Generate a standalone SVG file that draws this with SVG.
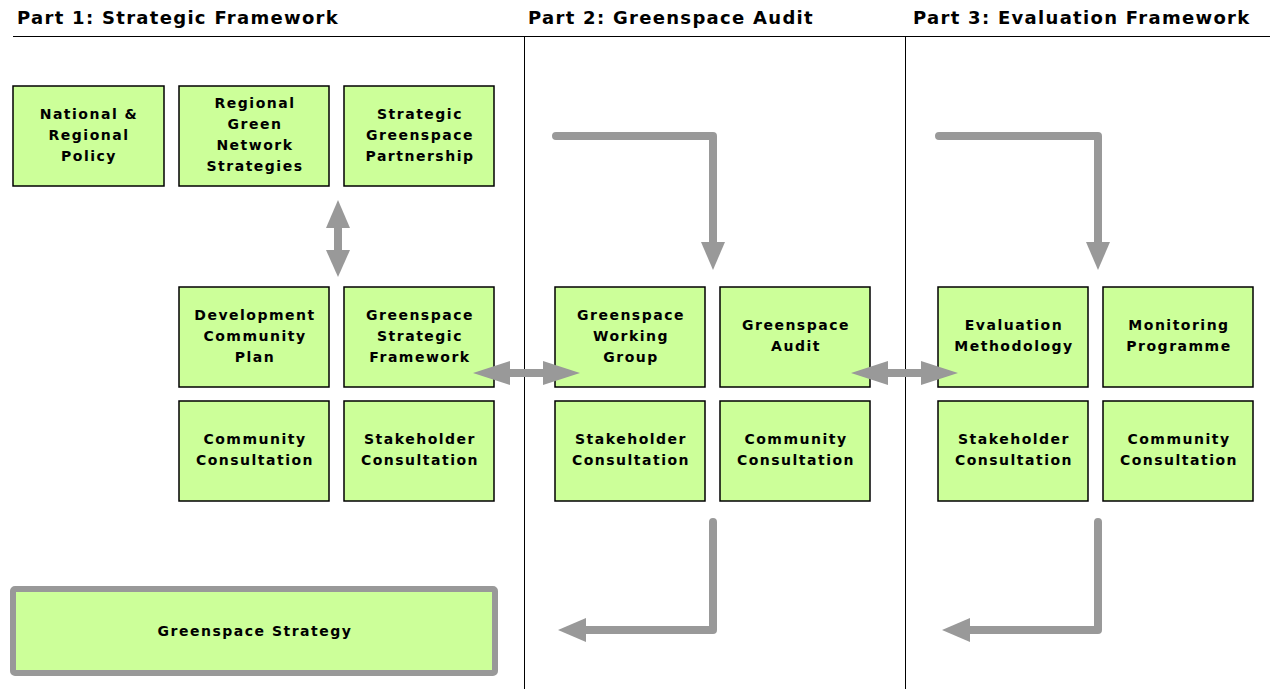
<svg xmlns="http://www.w3.org/2000/svg" width="1270" height="689" viewBox="0 0 1270 689">
<style>
.box{fill:#CCFF99;stroke:#000;stroke-width:1.5}
.big{fill:#CCFF99;stroke:#999;stroke-width:6}
.t{font-family:"DejaVu Sans","Liberation Sans",Arial,sans-serif;font-size:14px;font-weight:bold;letter-spacing:1.5px;fill:#000;text-anchor:middle}
.h{font-family:"DejaVu Sans","Liberation Sans",Arial,sans-serif;font-size:18px;font-weight:bold;letter-spacing:1.3px;fill:#000}
.rule{stroke:#000;stroke-width:1;fill:none}
.shaft{stroke:#999;stroke-width:8;fill:none;stroke-linejoin:round}
.head{fill:#999}
</style>
<rect width="1270" height="689" fill="#fff"/>
<g id="headers">
<text class="h" x="17" y="24">Part 1: Strategic Framework</text>
<text class="h" x="528" y="24">Part 2: Greenspace Audit</text>
<text class="h" x="913" y="24">Part 3: Evaluation Framework</text>
<line class="rule" x1="13" y1="36.5" x2="1270" y2="36.5"/>
<line class="rule" x1="524.5" y1="36" x2="524.5" y2="689"/>
<line class="rule" x1="905.5" y1="36" x2="905.5" y2="689"/>
</g>
<g id="n-national"><rect class="box" x="13" y="86" width="151" height="100"/><text class="t" x="89" y="119">National &amp;</text><text class="t" x="89" y="140">Regional</text><text class="t" x="89" y="161">Policy</text></g>
<g id="n-regional"><rect class="box" x="179" y="86" width="150" height="100"/><text class="t" x="255" y="108">Regional</text><text class="t" x="255" y="129">Green</text><text class="t" x="255" y="150">Network</text><text class="t" x="255" y="171">Strategies</text></g>
<g id="n-partnership"><rect class="box" x="344" y="86" width="150" height="100"/><text class="t" x="420" y="119">Strategic</text><text class="t" x="420" y="140">Greenspace</text><text class="t" x="420" y="161">Partnership</text></g>
<g id="n-devplan"><rect class="box" x="179" y="287" width="150" height="100"/><text class="t" x="255" y="320">Development</text><text class="t" x="255" y="341">Community</text><text class="t" x="255" y="362">Plan</text></g>
<g id="n-gsf"><rect class="box" x="344" y="287" width="150" height="100"/><text class="t" x="420" y="320">Greenspace</text><text class="t" x="420" y="341">Strategic</text><text class="t" x="420" y="362">Framework</text></g>
<g id="n-cc1"><rect class="box" x="179" y="401" width="150" height="100"/><text class="t" x="255" y="444">Community</text><text class="t" x="255" y="465">Consultation</text></g>
<g id="n-sc1"><rect class="box" x="344" y="401" width="150" height="100"/><text class="t" x="420" y="444">Stakeholder</text><text class="t" x="420" y="465">Consultation</text></g>
<g id="n-wg"><rect class="box" x="555" y="287" width="150" height="100"/><text class="t" x="631" y="320">Greenspace</text><text class="t" x="631" y="341">Working</text><text class="t" x="631" y="362">Group</text></g>
<g id="n-audit"><rect class="box" x="720" y="287" width="150" height="100"/><text class="t" x="796" y="330">Greenspace</text><text class="t" x="796" y="351">Audit</text></g>
<g id="n-sc2"><rect class="box" x="555" y="401" width="150" height="100"/><text class="t" x="631" y="444">Stakeholder</text><text class="t" x="631" y="465">Consultation</text></g>
<g id="n-cc2"><rect class="box" x="720" y="401" width="150" height="100"/><text class="t" x="796" y="444">Community</text><text class="t" x="796" y="465">Consultation</text></g>
<g id="n-evalmeth"><rect class="box" x="938" y="287" width="150" height="100"/><text class="t" x="1014" y="330">Evaluation</text><text class="t" x="1014" y="351">Methodology</text></g>
<g id="n-monitor"><rect class="box" x="1103" y="287" width="150" height="100"/><text class="t" x="1179" y="330">Monitoring</text><text class="t" x="1179" y="351">Programme</text></g>
<g id="n-sc3"><rect class="box" x="938" y="401" width="150" height="100"/><text class="t" x="1014" y="444">Stakeholder</text><text class="t" x="1014" y="465">Consultation</text></g>
<g id="n-cc3"><rect class="box" x="1103" y="401" width="150" height="100"/><text class="t" x="1179" y="444">Community</text><text class="t" x="1179" y="465">Consultation</text></g>
<g id="n-strategy"><rect class="big" x="13" y="589" width="482" height="84" rx="2"/><text class="t" x="255" y="636">Greenspace Strategy</text></g>
<g id="connectors">
<line class="shaft" x1="338" y1="225" x2="338" y2="252"/>
<polygon class="head" points="338,200 350,228 326,228"/>
<polygon class="head" points="338,277 350,250 326,250"/>
<line class="shaft" x1="505" y1="373" x2="550" y2="373"/>
<polygon class="head" points="473,373 510,361 510,385"/>
<polygon class="head" points="580,373 543,361 543,385"/>
<line class="shaft" x1="885" y1="373" x2="925" y2="373"/>
<polygon class="head" points="851,373 888,361 888,385"/>
<polygon class="head" points="958,373 921,361 921,385"/>
<path class="shaft" stroke-linecap="round" d="M556,136 H713 V245"/>
<polygon class="head" points="713,270 701,242 725,242"/>
<path class="shaft" stroke-linecap="round" d="M713,522 V630 H585"/>
<polygon class="head" points="558,630 586,618 586,642"/>
<path class="shaft" stroke-linecap="round" d="M939,136 H1098 V245"/>
<polygon class="head" points="1098,270 1086,242 1110,242"/>
<path class="shaft" stroke-linecap="round" d="M1098,522 V630 H970"/>
<polygon class="head" points="942,630 970,618 970,642"/>
</g>
</svg>
